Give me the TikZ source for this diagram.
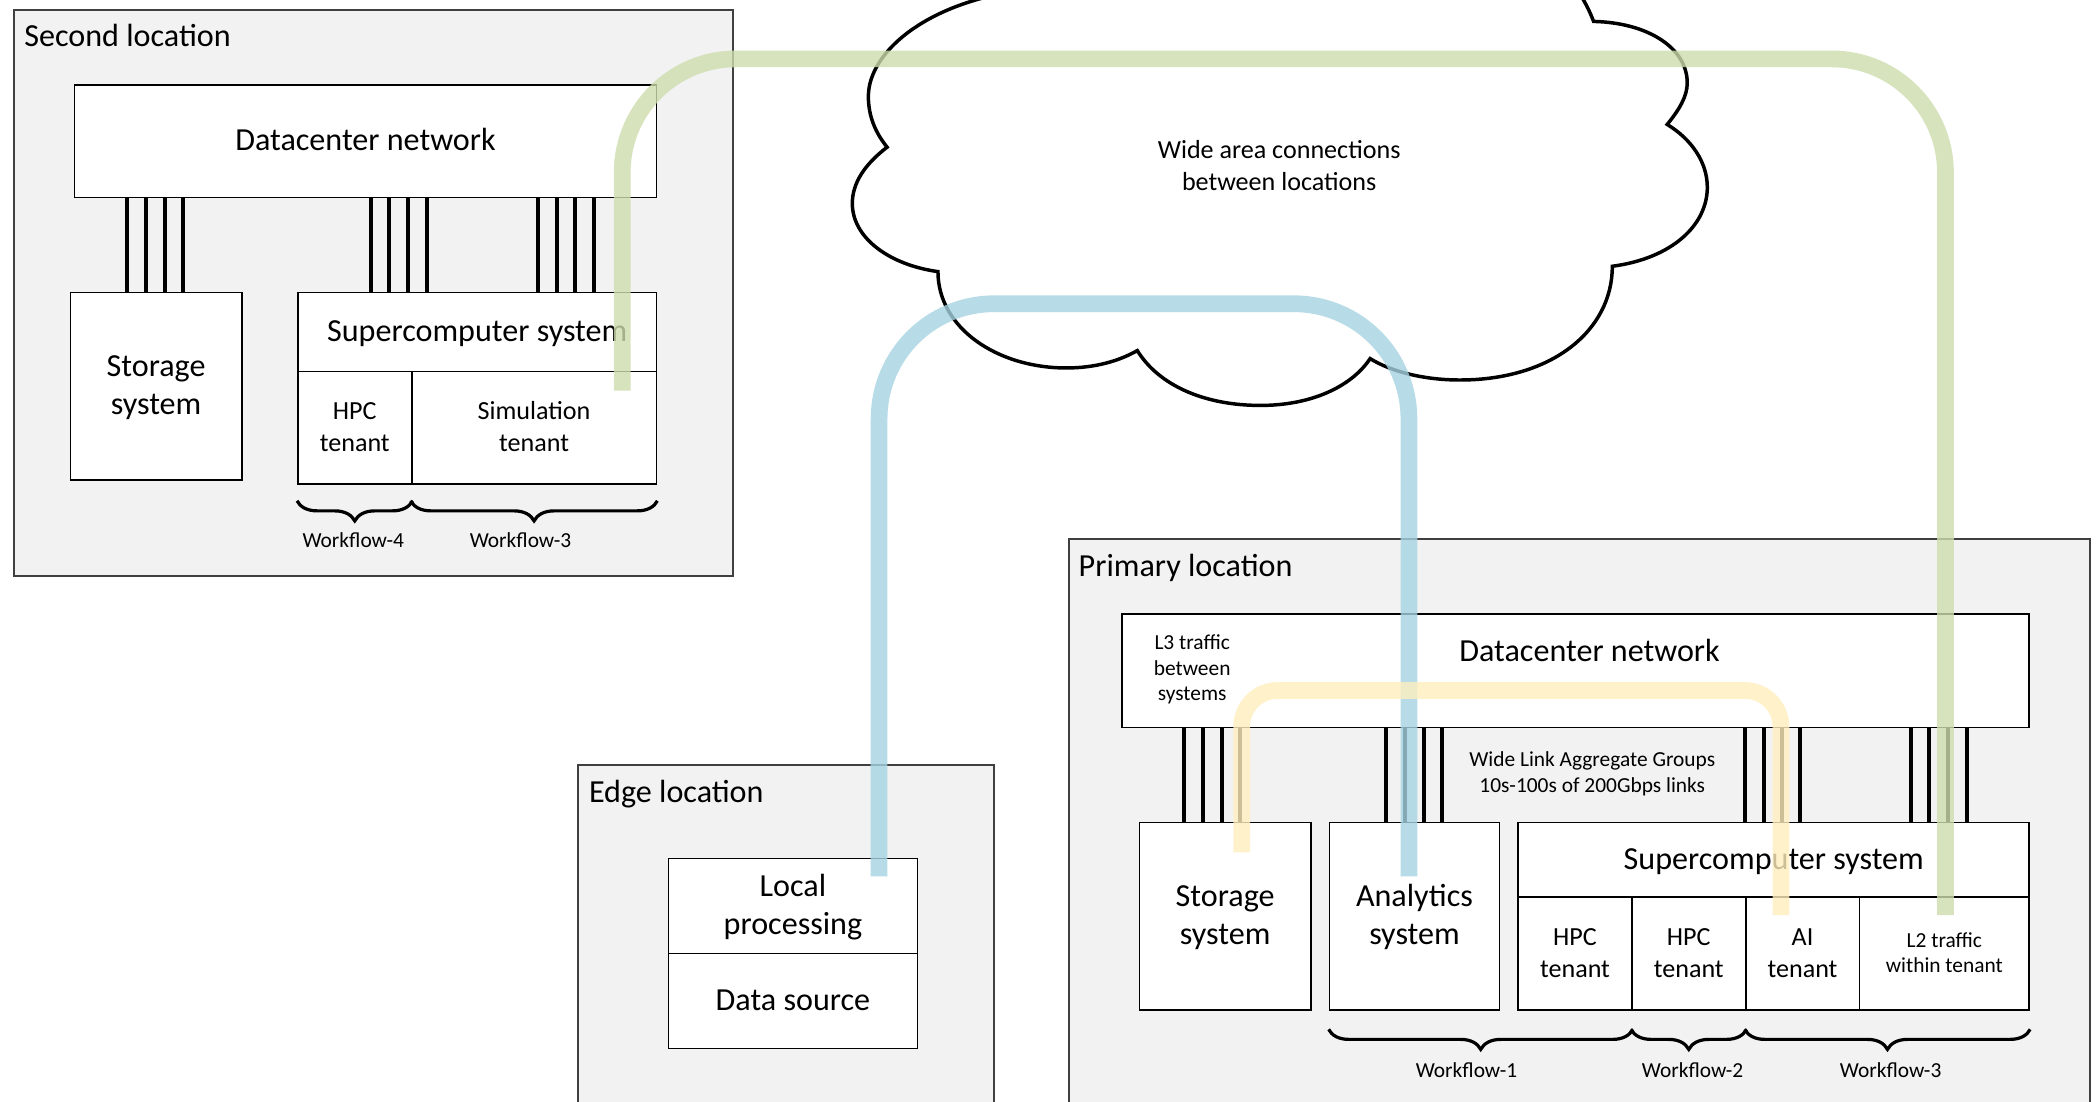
\documentclass[tikz,border=0pt]{standalone}
\usepackage{fontspec}
\setmainfont{Carlito}
\usetikzlibrary{calc,decorations.pathreplacing}
\definecolor{locgray}{HTML}{F2F2F2}
\definecolor{wangreen}{RGB}{205,221,172}
\definecolor{wanblue}{RGB}{165,212,226}
\definecolor{l3yellow}{RGB}{255,239,191}
% fixed line metrics so every text line is centred the same way
\newcommand*{\lnstrut}{\rule[-0.28em]{0pt}{1.15em}}
\begin{document}
\begin{tikzpicture}[x=1pt, y=-1pt,
  loc/.style={draw=black!75, line width=1.4pt, fill=locgray, anchor=north west, inner sep=0pt},
  box/.style={draw=black, line width=1.3pt, fill=white, anchor=north west, inner sep=0pt, align=center},
  big/.style={font=\fontsize{24}{28}\selectfont},
  mid/.style={font=\fontsize{19.5}{24}\selectfont},
  small/.style={font=\fontsize{16}{19}\selectfont},
  link/.style={line width=3pt},
  band/.style={line width=12.5pt, opacity=0.8},
  wfbrace/.style={decorate, decoration={brace, mirror, amplitude=15pt}, line width=2.4pt},
  title/.style={big, anchor=west, inner sep=0pt},
  wflabel/.style={small, inner sep=0pt},
]
\useasboundingbox (0,0) rectangle (1568,823);
\clip (0,0) rectangle (1568,823);
\fill[white] (0,0) rectangle (1568,823);

% ---- location frames ----
\node[loc, minimum width=537pt, minimum height=423pt] (second) at (10,7) {};
\node[title] (secondT) at (18,28) {\lnstrut Second location};
\node[loc, minimum width=311pt, minimum height=300pt] (edge) at (431,571) {};
\node[title] (edgeT) at (440,593) {\lnstrut Edge location};
\node[loc, minimum width=763pt, minimum height=500pt] (primary) at (798,402) {};
\node[title] (primaryT) at (806,424) {\lnstrut Primary location};

% ---- wide area cloud ----
\draw[line width=2.6pt, fill=white]
  (770,-8) .. controls (695,0) and (649,38) .. (649,72)
  .. controls (649,88) and (655,100) .. (663,110)
  .. controls (646,123) and (637,137) .. (637,152)
  .. controls (637,178) and (665,198) .. (701,203)
  .. controls (701,245) and (745,275) .. (797,275)
  .. controls (818,275) and (836,270) .. (850,262)
  .. controls (866,288) and (900,303) .. (942,303)
  .. controls (980,303) and (1010,289) .. (1024,268)
  .. controls (1040,278) and (1065,284) .. (1091,284)
  .. controls (1160,284) and (1205,247) .. (1205,199)
  .. controls (1250,193) and (1276,168) .. (1276,140)
  .. controls (1276,121) and (1264,104) .. (1246,93)
  .. controls (1255,82) and (1261,72) .. (1261,62)
  .. controls (1261,36) and (1232,17) .. (1191,16)
  .. controls (1188,8) and (1184,0) .. (1176,-12)
  -- (1176,-40) -- (770,-40) -- cycle;
\node[mid, align=center] (wan) at (956,124.5) {\lnstrut Wide area connections\\\lnstrut between locations};

% ---- second location ----
\node[box, big, minimum width=435pt, minimum height=84pt] (dcn2) at (55,63) {\lnstrut Datacenter network};
\node[box, big, minimum width=128pt, minimum height=140pt] (sto2) at (52,218) {\lnstrut Storage\\\lnstrut system};
\node[box, big, minimum width=268pt, minimum height=59pt] (sc2) at (222,218) {\lnstrut Supercomputer system};
\node[box, mid, minimum width=85pt, minimum height=84pt] (hpc2) at (222,277) {\lnstrut HPC\\\lnstrut tenant};
\node[box, mid, minimum width=183pt, minimum height=84pt] (sim2) at (307,277) {\lnstrut Simulation\\\lnstrut tenant};
\foreach \d in {43,57,71,85} \draw[link] ($(sto2.north west)+(\d,0)$) -- ++(0,-71);
\foreach \d in {55,69,83,97,180,194,208,222} \draw[link] ($(sc2.north west)+(\d,0)$) -- ++(0,-71);

% ---- edge location ----
\node[box, big, minimum width=186pt, minimum height=71pt] (lp) at (499,641) {\lnstrut Local\\\lnstrut processing};
\node[box, big, minimum width=186pt, minimum height=71pt] (ds) at (499,712) {\lnstrut Data source};

% ---- primary location ----
\node[box, minimum width=678pt, minimum height=85pt] (dcn1) at (838,458) {};
\node[big] (dcn1T) at (1188,487) {\lnstrut Datacenter network};
\node[small, align=center] (l3) at (891,500) {\lnstrut L3 traffic\\\lnstrut between\\\lnstrut systems};
\node[small, align=center] (lag) at (1190,578) {\lnstrut Wide Link Aggregate Groups\\\lnstrut 10s-100s of 200Gbps links};
\node[box, big, minimum width=128pt, minimum height=140pt] (sto1) at (851,614) {\lnstrut Storage\\\lnstrut system};
\node[box, big, minimum width=127pt, minimum height=140pt] (ana1) at (993,614) {\lnstrut Analytics\\\lnstrut system};
\node[box, big, minimum width=382pt, minimum height=56pt] (sc1) at (1134,614) {\lnstrut Supercomputer system};
\node[box, mid, minimum width=85pt, minimum height=84pt] (hpcA) at (1134,670) {\lnstrut HPC\\\lnstrut tenant};
\node[box, mid, minimum width=85pt, minimum height=84pt] (hpcB) at (1219,670) {\lnstrut HPC\\\lnstrut tenant};
\node[box, mid, minimum width=85pt, minimum height=84pt] (ai) at (1304,670) {\lnstrut AI\\\lnstrut tenant};
\node[box, small, minimum width=127pt, minimum height=84pt] (l2) at (1389,670) {\lnstrut L2 traffic\\\lnstrut within tenant};
\foreach \d in {34,48,62,76} \draw[link] ($(sto1.north west)+(\d,0)$) -- ++(0,-71);
\foreach \d in {43,57,71,85} \draw[link] ($(ana1.north west)+(\d,0)$) -- ++(0,-71);
\foreach \d in {170,184,198,211,294,308,322,336} \draw[link] ($(sc1.north west)+(\d,0)$) -- ++(0,-71);

% ---- traffic paths ----
\coordinate (gS) at (465,292);
\coordinate (gE) at (1454,684);
\draw[band, draw=wangreen, rounded corners=85pt] (gS) -- (465,44) -- (1454,44) -- (gE);
\coordinate (bS) at (657,655);
\coordinate (bE) at (1053,655);
\draw[band, draw=wanblue, rounded corners=86pt] (bS) -- (657,227) -- (1053,227) -- (bE);
\coordinate (yS) at (928,637);
\coordinate (yE) at (1331,684);
\draw[band, draw=l3yellow, rounded corners=27pt] (yS) -- (928,516) -- (1331,516) -- (yE);

% ---- workflow braces ----
\draw[wfbrace] ($(hpc2.south west)+(0,12)$) -- ($(hpc2.south east)+(0,12)$);
\draw[wfbrace] ($(sim2.south west)+(0,12)$) -- ($(sim2.south east)+(0,12)$);
\node[wflabel] (wf4) at (264,404) {Workflow-4};
\node[wflabel] (wf3s) at (389,404) {Workflow-3};
\draw[wfbrace] ($(ana1.south west)+(0,14)$) -- ($(hpcA.south east)+(0,14)$);
\draw[wfbrace] ($(hpcB.south west)+(0,14)$) -- ($(hpcB.south east)+(0,14)$);
\draw[wfbrace] ($(ai.south west)+(0,14)$) -- ($(l2.south east)+(0,14)$);
\node[wflabel] (wf1) at (1096,800) {Workflow-1};
\node[wflabel] (wf2) at (1265,800) {Workflow-2};
\node[wflabel] (wf3p) at (1413,800) {Workflow-3};
\end{tikzpicture}
\end{document}
